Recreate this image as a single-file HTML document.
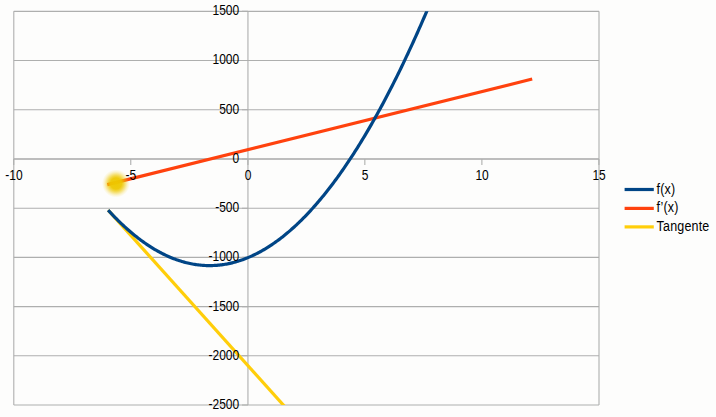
<!DOCTYPE html>
<html><head><meta charset="utf-8"><style>
html,body{margin:0;padding:0;background:#fdfdfc;}
body{width:716px;height:417px;position:relative;overflow:hidden;font-family:"Liberation Sans",sans-serif;}
</style></head><body>
<svg width="716" height="417" viewBox="0 0 716 417" style="position:absolute;left:0;top:0"><defs><clipPath id="pa"><rect x="13.80" y="11.35" width="585.20" height="393.64"/></clipPath><radialGradient id="blob"><stop offset="0" stop-color="#eec800" stop-opacity="0.985"/><stop offset="0.4" stop-color="#eec800" stop-opacity="0.945"/><stop offset="0.55" stop-color="#eec800" stop-opacity="0.72"/><stop offset="0.7" stop-color="#efca08" stop-opacity="0.45"/><stop offset="0.85" stop-color="#f2d030" stop-opacity="0.2"/><stop offset="1" stop-color="#f5d840" stop-opacity="0"/></radialGradient></defs><path d="M13.80 11.35H599.00M13.80 60.56H599.00M13.80 109.77H599.00M13.80 158.72H599.00M13.80 208.18H599.00M13.80 257.38H599.00M13.80 306.59H599.00M13.80 355.79H599.00M13.80 405.00H599.00" stroke="#aeafae" stroke-width="1.1" fill="none"/><path d="M13.80 11.35V405.00M599.00 11.35V405.00" stroke="#aeafae" stroke-width="1.1" fill="none"/><path d="M247.95 11.35V405.00M13.80 159.25H599.00" stroke="#aeafae" stroke-width="1.1" fill="none"/><path d="M241.95 11.35H247.95M241.95 60.56H247.95M241.95 109.77H247.95M241.95 158.97H247.95M241.95 208.18H247.95M241.95 257.38H247.95M241.95 306.59H247.95M241.95 355.79H247.95M241.95 405.00H247.95M13.72 159.0V165.0M130.76 159.0V165.0M247.95 159.0V165.0M364.84 159.0V165.0M481.88 159.0V165.0M598.92 159.0V165.0" stroke="#aeafae" stroke-width="1.1" fill="none"/><g clip-path="url(#pa)" fill="none" stroke-width="3.2" stroke-linejoin="round"><path d="M108.13,210.14 L285.99,408.00" stroke="#ffce0a"/><path d="M107.3,184.58 L532.2,79.02" stroke="#ff420e"/><path d="M108.13,210.14 L109.30,211.42 L110.47,212.67 L111.64,213.91 L112.81,215.14 L113.98,216.36 L115.15,217.55 L116.32,218.74 L117.49,219.91 L118.66,221.06 L119.83,222.20 L121.00,223.32 L122.17,224.43 L123.34,225.53 L124.51,226.61 L125.68,227.67 L126.85,228.72 L128.02,229.76 L129.19,230.78 L130.36,231.79 L131.53,232.78 L132.70,233.75 L133.87,234.72 L135.04,235.66 L136.21,236.60 L137.38,237.51 L138.55,238.42 L139.72,239.30 L140.89,240.18 L142.06,241.04 L143.23,241.88 L144.40,242.71 L145.57,243.52 L146.74,244.32 L147.91,245.11 L149.08,245.88 L150.25,246.63 L151.42,247.37 L152.59,248.10 L153.76,248.81 L154.93,249.51 L156.10,250.19 L157.27,250.86 L158.44,251.51 L159.61,252.14 L160.79,252.77 L161.96,253.37 L163.13,253.97 L164.30,254.55 L165.47,255.11 L166.64,255.66 L167.81,256.19 L168.98,256.71 L170.15,257.22 L171.32,257.70 L172.49,258.18 L173.66,258.64 L174.83,259.08 L176.00,259.52 L177.17,259.93 L178.34,260.33 L179.51,260.72 L180.68,261.09 L181.85,261.45 L183.02,261.79 L184.19,262.12 L185.36,262.43 L186.53,262.73 L187.70,263.01 L188.87,263.28 L190.04,263.53 L191.21,263.77 L192.38,263.99 L193.55,264.20 L194.72,264.40 L195.89,264.58 L197.06,264.74 L198.23,264.89 L199.40,265.03 L200.57,265.15 L201.74,265.25 L202.91,265.34 L204.08,265.42 L205.25,265.48 L206.42,265.53 L207.59,265.56 L208.76,265.58 L209.93,265.58 L211.10,265.57 L212.27,265.54 L213.44,265.50 L214.61,265.44 L215.78,265.37 L216.95,265.28 L218.12,265.18 L219.30,265.07 L220.47,264.94 L221.64,264.79 L222.81,264.63 L223.98,264.46 L225.15,264.27 L226.32,264.06 L227.49,263.85 L228.66,263.61 L229.83,263.36 L231.00,263.10 L232.17,262.82 L233.34,262.53 L234.51,262.22 L235.68,261.90 L236.85,261.56 L238.02,261.21 L239.19,260.84 L240.36,260.46 L241.53,260.07 L242.70,259.66 L243.87,259.23 L245.04,258.79 L246.21,258.33 L247.38,257.86 L248.55,257.38 L249.72,256.88 L250.89,256.37 L252.06,255.84 L253.23,255.29 L254.40,254.74 L255.57,254.16 L256.74,253.57 L257.91,252.97 L259.08,252.35 L260.25,251.72 L261.42,251.07 L262.59,250.41 L263.76,249.74 L264.93,249.04 L266.10,248.34 L267.27,247.62 L268.44,246.88 L269.61,246.13 L270.78,245.37 L271.95,244.59 L273.12,243.79 L274.29,242.98 L275.46,242.16 L276.63,241.32 L277.81,240.47 L278.98,239.60 L280.15,238.71 L281.32,237.82 L282.49,236.90 L283.66,235.98 L284.83,235.03 L286.00,234.08 L287.17,233.10 L288.34,232.12 L289.51,231.12 L290.68,230.10 L291.85,229.07 L293.02,228.02 L294.19,226.96 L295.36,225.89 L296.53,224.80 L297.70,223.69 L298.87,222.57 L300.04,221.44 L301.21,220.29 L302.38,219.13 L303.55,217.95 L304.72,216.76 L305.89,215.55 L307.06,214.33 L308.23,213.09 L309.40,211.84 L310.57,210.57 L311.74,209.29 L312.91,207.99 L314.08,206.68 L315.25,205.35 L316.42,204.01 L317.59,202.66 L318.76,201.29 L319.93,199.90 L321.10,198.50 L322.27,197.09 L323.44,195.66 L324.61,194.21 L325.78,192.75 L326.95,191.28 L328.12,189.79 L329.29,188.29 L330.46,186.77 L331.63,185.24 L332.80,183.69 L333.97,182.13 L335.14,180.55 L336.31,178.96 L337.49,177.35 L338.66,175.73 L339.83,174.10 L341.00,172.44 L342.17,170.78 L343.34,169.10 L344.51,167.40 L345.68,165.69 L346.85,163.97 L348.02,162.23 L349.19,160.48 L350.36,158.71 L351.53,156.92 L352.70,155.12 L353.87,153.31 L355.04,151.48 L356.21,149.64 L357.38,147.78 L358.55,145.91 L359.72,144.02 L360.89,142.12 L362.06,140.21 L363.23,138.27 L364.40,136.33 L365.57,134.37 L366.74,132.39 L367.91,130.40 L369.08,128.40 L370.25,126.38 L371.42,124.34 L372.59,122.29 L373.76,120.23 L374.93,118.15 L376.10,116.06 L377.27,113.95 L378.44,111.82 L379.61,109.69 L380.78,107.53 L381.95,105.37 L383.12,103.18 L384.29,100.99 L385.46,98.78 L386.63,96.55 L387.80,94.31 L388.97,92.05 L390.14,89.78 L391.31,87.49 L392.48,85.19 L393.65,82.88 L394.83,80.55 L396.00,78.20 L397.17,75.85 L398.34,73.47 L399.51,71.08 L400.68,68.68 L401.85,66.26 L403.02,63.83 L404.19,61.38 L405.36,58.92 L406.53,56.44 L407.70,53.95 L408.87,51.44 L410.04,48.92 L411.21,46.38 L412.38,43.83 L413.55,41.26 L414.72,38.68 L415.89,36.09 L417.06,33.48 L418.23,30.85 L419.40,28.21 L420.57,25.56 L421.74,22.89 L422.91,20.20 L424.08,17.51 L425.25,14.79 L426.42,12.06 L427.59,9.32 L428.76,6.56 L429.93,3.79 L431.10,1.00 L432.27,-1.80 L433.44,-4.62 L434.61,-7.45 L435.78,-10.30" stroke="#004586"/></g><g font-family="Liberation Sans, sans-serif" font-size="12" fill="#000"><text transform="translate(239.2 15.18) scale(1 1.15)" text-anchor="end">1500</text><text transform="translate(239.2 64.40) scale(1 1.15)" text-anchor="end">1000</text><text transform="translate(239.2 113.62) scale(1 1.15)" text-anchor="end">500</text><text transform="translate(239.2 162.85) scale(1 1.15)" text-anchor="end">0</text><text transform="translate(239.2 212.07) scale(1 1.15)" text-anchor="end">-500</text><text transform="translate(239.2 261.30) scale(1 1.15)" text-anchor="end">-1000</text><text transform="translate(239.2 310.52) scale(1 1.15)" text-anchor="end">-1500</text><text transform="translate(239.2 359.75) scale(1 1.15)" text-anchor="end">-2000</text><text transform="translate(239.2 408.98) scale(1 1.15)" text-anchor="end">-2500</text><text transform="translate(13.92 179.8) scale(1 1.15)" text-anchor="middle">-10</text><text transform="translate(130.96 179.8) scale(1 1.15)" text-anchor="middle">-5</text><text transform="translate(248.00 179.8) scale(1 1.15)" text-anchor="middle">0</text><text transform="translate(365.04 179.8) scale(1 1.15)" text-anchor="middle">5</text><text transform="translate(482.08 179.8) scale(1 1.15)" text-anchor="middle">10</text><text transform="translate(599.12 179.8) scale(1 1.15)" text-anchor="middle">15</text></g><circle cx="116.0" cy="183.5" r="14" fill="url(#blob)"/><path d="M624.6 189.5H653.8" stroke="#004586" stroke-width="3.2"/><text transform="translate(656.6 193.8) scale(1 1.1)" font-family="Liberation Sans, sans-serif" font-size="12.5" letter-spacing="0.18">f(x)</text><path d="M624.6 208.4H653.8" stroke="#ff420e" stroke-width="3.2"/><text transform="translate(656.6 212.4) scale(1 1.1)" font-family="Liberation Sans, sans-serif" font-size="12.5" letter-spacing="0.18">f’(x)</text><path d="M624.6 226.9H653.8" stroke="#ffce0a" stroke-width="3.2"/><text transform="translate(656.6 231.0) scale(1 1.1)" font-family="Liberation Sans, sans-serif" font-size="12.5" letter-spacing="0.18">Tangente</text></svg>
</body></html>
